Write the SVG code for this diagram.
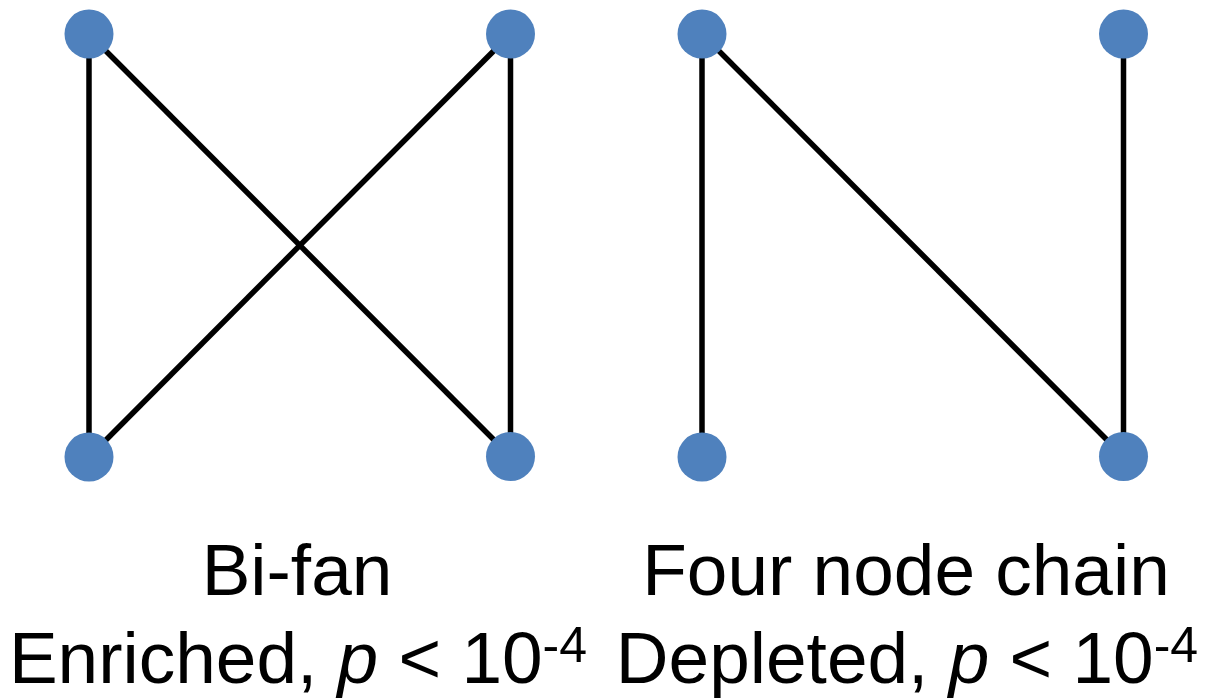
<svg xmlns="http://www.w3.org/2000/svg" width="1213" height="698" viewBox="0 0 1213 698">
  <style>
    .edge { stroke: #000000; stroke-width: 5.5; stroke-linecap: butt; fill: none; }
    .node { fill: #4F81BD; }
    .label { font-family: "Liberation Sans", Arial, sans-serif; font-size: 73px; fill: #000000; text-anchor: middle; }
    .sup { font-size: 50px; }
  </style>
  <rect width="1213" height="698" fill="#ffffff"/>

  <!-- edges of both motifs -->
  <g id="connectors">
    <!-- bi-fan -->
    <line class="edge" x1="89" y1="34" x2="89" y2="457"/>
    <line class="edge" x1="89" y1="34" x2="510.5" y2="456.5"/>
    <line class="edge" x1="510.5" y1="34" x2="89" y2="457"/>
    <line class="edge" x1="510.5" y1="34" x2="510.5" y2="456.5"/>
    <!-- four node chain -->
    <line class="edge" x1="702" y1="34" x2="702" y2="457"/>
    <line class="edge" x1="702" y1="34" x2="1123.5" y2="456.5"/>
    <line class="edge" x1="1123.5" y1="34" x2="1123.5" y2="456.5"/>
  </g>

  <!-- bi-fan nodes -->
  <g id="bifan-top-left"><circle class="node" cx="89" cy="34" r="24.5"/></g>
  <g id="bifan-top-right"><circle class="node" cx="510.5" cy="34" r="24.5"/></g>
  <g id="bifan-bottom-left"><circle class="node" cx="89" cy="457" r="24.5"/></g>
  <g id="bifan-bottom-right"><circle class="node" cx="510.5" cy="456.5" r="24.5"/></g>

  <!-- chain nodes -->
  <g id="chain-top-left"><circle class="node" cx="702" cy="34" r="24.5"/></g>
  <g id="chain-top-right"><circle class="node" cx="1123.5" cy="34" r="24.5"/></g>
  <g id="chain-bottom-left"><circle class="node" cx="702" cy="457" r="24.5"/></g>
  <g id="chain-bottom-right"><circle class="node" cx="1123.5" cy="456.5" r="24.5"/></g>

  <!-- captions -->
  <g id="caption-bifan">
    <text class="label" x="297" y="595">Bi-fan</text>
    <text class="label" x="298" y="683">Enriched, <tspan font-style="italic">p</tspan> &lt; 10<tspan class="sup" dy="-21">-4</tspan></text>
  </g>
  <g id="caption-chain">
    <text class="label" x="906" y="595">Four node chain</text>
    <text class="label" x="907" y="683">Depleted, <tspan font-style="italic">p</tspan> &lt; 10<tspan class="sup" dy="-21">-4</tspan></text>
  </g>
</svg>
